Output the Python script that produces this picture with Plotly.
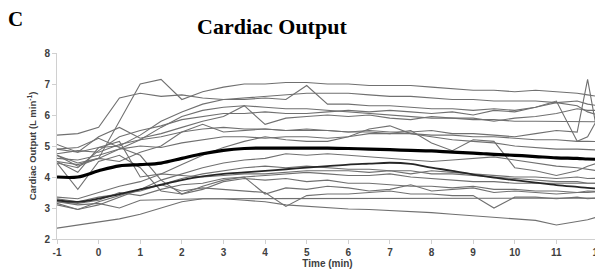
import plotly.graph_objects as go

time_min = [-1, -0.5, 0, 0.5, 1, 1.5, 2, 2.5, 3, 3.5, 4, 4.5, 5, 5.5, 6, 6.5, 7, 7.5,
            8, 8.5, 9, 9.5, 10, 10.5, 11, 11.5, 11.75, 12]

subj_01 = [4.7, 4.35, 4.6, 5.8, 7.0, 7.15, 6.5, 6.75, 6.9, 7.0, 7.0, 7.05, 7.05, 7.0, 7.0, 6.95, 6.95, 6.95, 6.9, 6.85, 6.8, 6.8, 6.75, 6.8, 6.75, 6.7, 6.65, 6.6]
subj_02 = [5.35, 5.4, 5.6, 6.55, 6.7, 6.6, 6.65, 6.55, 6.5, 6.5, 6.55, 6.5, 6.95, 6.35, 6.35, 6.3, 6.3, 6.25, 6.2, 6.2, 6.15, 6.2, 6.15, 6.25, 6.4, 6.3, 6.1, 6.0]
subj_03 = [4.9, 4.8, 4.95, 5.0, 5.35, 5.8, 6.1, 6.35, 6.5, 6.55, 6.6, 6.65, 6.7, 6.7, 6.7, 6.65, 6.6, 6.6, 6.55, 6.5, 6.5, 6.45, 6.45, 6.45, 6.4, 6.45, 6.35, 6.3]
subj_04 = [4.6, 4.55, 4.7, 4.9, 5.2, 5.6, 5.95, 6.15, 6.25, 6.3, 6.25, 6.2, 6.2, 6.15, 6.1, 6.05, 6.0, 5.95, 5.9, 5.9, 5.85, 5.85, 5.8, 5.8, 5.8, 5.8, 5.78, 5.78]
subj_05 = [5.05, 4.8, 5.3, 5.6, 5.25, 5.4, 5.6, 5.8, 5.95, 6.3, 5.7, 5.9, 5.95, 6.0, 5.95, 6.0, 5.9, 5.85, 5.95, 5.9, 5.9, 5.8, 5.9, 5.95, 6.05, 6.2, 6.15, 6.15]
subj_06 = [4.45, 4.3, 4.85, 5.3, 5.5, 5.65, 5.85, 5.95, 6.05, 6.05, 6.1, 6.05, 6.05, 6.1, 6.15, 6.1, 6.15, 6.1, 6.05, 6.1, 6.0, 6.15, 6.1, 6.25, 6.45, 5.15, 5.3, 5.9]
subj_07 = [4.75, 4.85, 4.8, 5.05, 5.2, 5.3, 5.45, 5.55, 5.6, 5.55, 5.55, 5.5, 5.55, 5.5, 5.45, 5.5, 5.45, 5.45, 5.5, 5.4, 5.4, 5.35, 5.3, 5.4, 5.5, 5.45, 7.15, 5.3]
subj_08 = [4.7, 4.45, 4.6, 4.9, 5.0, 4.95, 5.1, 5.2, 5.3, 5.3, 5.25, 5.3, 5.3, 5.25, 5.3, 5.4, 5.4, 5.5, 5.1, 4.85, 5.2, 5.15, 4.3, 4.2, 4.05, 4.2, 4.35, 4.45]
subj_09 = [4.5, 4.4, 4.6, 4.5, 4.8, 5.0, 5.45, 5.7, 5.45, 5.5, 5.55, 5.5, 5.5, 5.5, 5.45, 5.45, 5.4, 5.4, 5.35, 5.35, 5.3, 5.3, 5.25, 5.2, 5.2, 5.15, 5.15, 5.14]
subj_10 = [3.35, 3.3, 3.5, 3.7, 3.85, 4.1, 4.4, 4.7, 4.95, 5.15, 5.3, 5.2, 5.15, 5.15, 5.3, 5.55, 5.65, 5.4, 5.3, 5.2, 5.15, 5.1, 5.0, 4.95, 4.9, 4.9, 4.88, 4.87]
subj_11 = [4.5, 4.15, 4.95, 5.15, 4.0, 4.1, 4.05, 4.0, 4.05, 4.1, 4.1, 4.15, 4.2, 4.2, 4.2, 4.15, 4.2, 4.1, 4.2, 4.15, 4.1, 4.05, 4.0, 4.0, 3.95, 4.0, 3.95, 3.96]
subj_12 = [4.45, 3.6, 4.5, 4.7, 4.3, 3.55, 3.45, 3.7, 3.9, 4.0, 4.05, 4.1, 4.15, 4.1, 4.05, 4.05, 4.1, 4.0, 3.95, 3.9, 3.85, 3.85, 3.8, 3.8, 3.8, 3.8, 3.8, 3.8]
subj_13 = [4.9, 4.95, 5.25, 4.95, 4.7, 3.9, 3.45, 3.6, 3.85, 3.95, 3.9, 3.95, 3.85, 3.9, 3.8, 3.8, 3.75, 3.7, 3.7, 3.65, 3.7, 3.6, 3.6, 3.55, 3.55, 3.5, 3.55, 3.53]
subj_14 = [3.2, 3.1, 3.15, 3.0, 3.25, 3.27, 3.28, 3.3, 3.3, 3.3, 3.3, 3.3, 3.3, 3.3, 3.3, 3.3, 3.3, 3.3, 3.3, 3.3, 3.3, 3.3, 3.3, 3.3, 3.32, 3.3, 3.32, 3.32]
subj_15 = [2.35, 2.45, 2.55, 2.65, 2.8, 3.0, 3.2, 3.3, 3.3, 3.25, 3.2, 3.1, 3.05, 3.0, 2.97, 2.95, 2.92, 2.88, 2.85, 2.8, 2.75, 2.7, 2.65, 2.6, 2.45, 2.55, 2.62, 2.72]
subj_16 = [3.15, 2.95, 3.1, 3.35, 3.6, 3.75, 3.55, 3.65, 3.6, 3.55, 3.5, 3.05, 3.4, 3.45, 3.45, 3.5, 3.55, 3.45, 3.45, 3.4, 3.4, 3.0, 3.35, 3.35, 3.3, 3.35, 3.3, 3.32]
subj_17 = [3.3, 3.2, 3.35, 3.45, 3.55, 3.75, 3.95, 4.1, 4.2, 4.3, 4.35, 4.3, 4.35, 4.3, 4.25, 4.25, 4.2, 4.2, 4.1, 4.1, 4.05, 4.0, 3.95, 3.9, 3.85, 3.85, 3.8, 3.8]
subj_18 = [3.2, 3.15, 3.25, 3.5, 3.4, 3.6, 3.75, 3.8, 3.95, 4.0, 3.45, 3.65, 3.6, 3.7, 3.65, 3.55, 3.6, 3.75, 3.55, 3.6, 3.65, 3.5, 3.55, 3.5, 3.45, 3.5, 3.5, 3.53]
subj_19 = [3.1, 2.95, 3.2, 3.4, 3.6, 3.9, 4.1, 4.3, 4.45, 4.55, 4.6, 4.75, 4.7, 4.75, 4.7, 4.65, 4.6, 4.55, 4.5, 4.55, 4.6, 4.65, 4.55, 4.45, 4.35, 4.3, 4.25, 4.2]

subjects = [subj_01, subj_02, subj_03, subj_04, subj_05, subj_06, subj_07, subj_08, subj_09, subj_10,
            subj_11, subj_12, subj_13, subj_14, subj_15, subj_16, subj_17, subj_18, subj_19]

mean_line = [4.0, 4.0, 4.2, 4.36, 4.4, 4.45, 4.6, 4.75, 4.86, 4.92, 4.93, 4.93, 4.93, 4.93, 4.92, 4.9, 4.88, 4.86, 4.84, 4.8, 4.77, 4.73, 4.7, 4.66, 4.62, 4.6, 4.58, 4.57]
second_line = [3.25, 3.2, 3.3, 3.45, 3.6, 3.75, 3.9, 4.02, 4.1, 4.15, 4.2, 4.25, 4.3, 4.35, 4.4, 4.43, 4.46, 4.42, 4.3, 4.2, 4.08, 3.98, 3.9, 3.82, 3.74, 3.68, 3.65, 3.63]

for s in subjects + [mean_line, second_line]:
    if len(s) != len(time_min):
        raise ValueError("length mismatch")

x_ticks = list(range(-1, 13))
y_ticks = list(range(2, 9))

fig = go.Figure()
for s in subjects:
    fig.add_trace(go.Scatter(x=time_min, y=s, mode="lines",
                             line=dict(color="#707070", width=1.1), showlegend=False))
fig.add_trace(go.Scatter(x=time_min, y=second_line, mode="lines",
                         line=dict(color="#262626", width=1.8, shape="spline"), showlegend=False))
fig.add_trace(go.Scatter(x=time_min, y=mean_line, mode="lines",
                         line=dict(color="#000000", width=3.2, shape="spline"), showlegend=False))

# the page body adds an 8 px margin: the figure is drawn 8 px right and down
OFF = 8
W, H = 603 - OFF, 278 - OFF
L, R, T, B = 57 - OFF, 603 - 598, 53 - OFF, H - (239 - OFF)
pw, ph = W - L - R, H - T - B

tick_font = dict(family="Liberation Sans", size=10, color="#404040")
fig.update_layout(
    width=W, height=H,
    margin=dict(l=L, r=R, t=T, b=B, autoexpand=False),
    paper_bgcolor="white", plot_bgcolor="white",
    xaxis=dict(range=[-1, 12], tickvals=x_ticks,
               ticktext=["<b>%d</b>" % v for v in x_ticks],
               ticklabeloverflow="allow",
               showgrid=False, zeroline=False,
               showline=True, linecolor="#d0d0d0", linewidth=1,
               ticks="outside", ticklen=4, tickcolor="#d0d0d0",
               tickfont=tick_font,
               title=dict(text="<b>Time (min)</b>", font=tick_font, standoff=2)),
    yaxis=dict(range=[2, 8], tickvals=y_ticks,
               ticktext=["<b>%d</b>" % v for v in y_ticks],
               showgrid=False, zeroline=False,
               showline=True, linecolor="#d0d0d0", linewidth=1,
               ticks="outside", ticklen=4, tickcolor="#d0d0d0",
               tickfont=tick_font,
               title=dict(text="<b>Cardiac Output (L min<sup>-1</sup>)</b>",
                          font=dict(family="Liberation Sans", size=9.5, color="#404040"),
                          standoff=6)),
)


def page_to_paper(px, py):
    return (px - OFF - L) / pw, (H - B - (py - OFF)) / ph


tx, ty = page_to_paper(272, 27)
cx, cy = page_to_paper(15.5, 19)
fig.add_annotation(text="<b>Cardiac Output</b>", x=tx, y=ty, xref="paper", yref="paper",
                   xanchor="center", yanchor="middle", showarrow=False,
                   font=dict(family="Liberation Serif", size=22, color="black"))
fig.add_annotation(text="<b>C</b>", x=cx, y=cy, xref="paper", yref="paper",
                   xanchor="center", yanchor="middle", showarrow=False, borderpad=0,
                   font=dict(family="Liberation Serif", size=21, color="black"))

fig.write_html("out.html")
